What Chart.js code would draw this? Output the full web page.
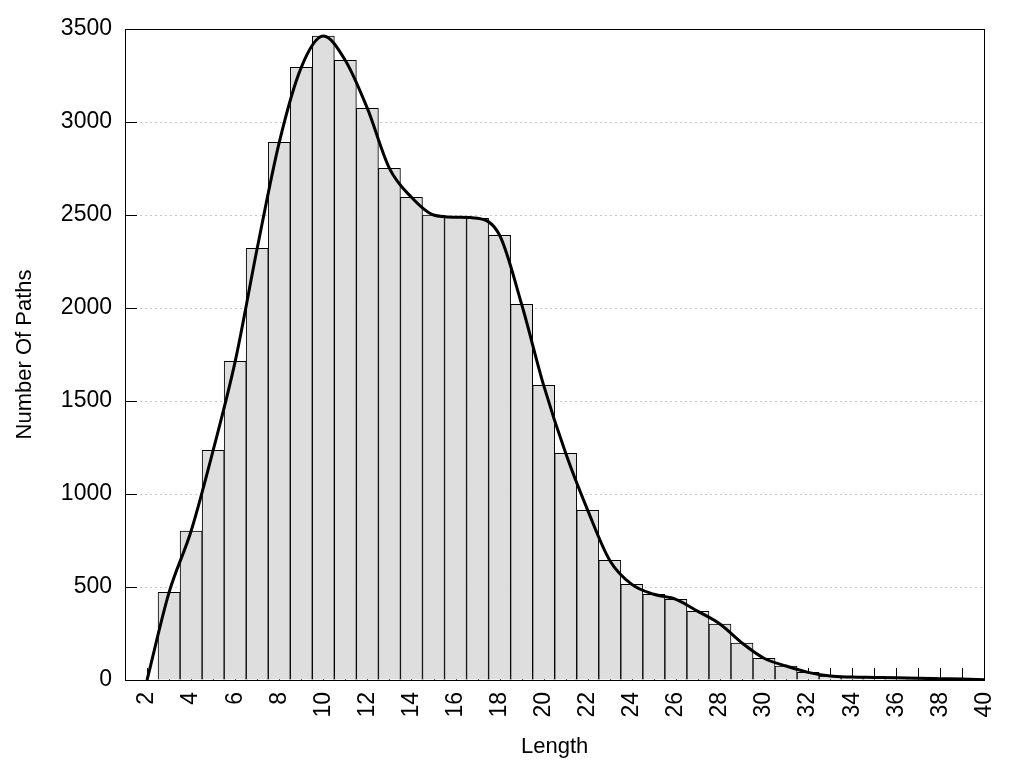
<!DOCTYPE html>
<html>
<head>
<meta charset="utf-8">
<script src="https://cdn.jsdelivr.net/npm/chart.js@4.4.1/dist/chart.umd.min.js"></script>
<style>
  html, body { margin: 0; padding: 0; background: #fff; }
  #wrap { width: 1024px; height: 768px; }
</style>
</head>
<body>
<div id="wrap"><canvas id="pathChart"></canvas></div>
<script>
// Histogram: path length vs number of paths
const lengths = [3, 4, 5, 6, 7, 8, 9, 10, 11, 12, 13, 14, 15, 16, 17, 18, 19, 20, 21,
                 22, 23, 24, 25, 26, 27, 28, 29, 30, 31, 32, 33, 34, 35, 36, 37, 38, 39];
const pathCounts = [471, 801, 1235, 1713, 2321, 2891, 3294, 3462, 3331, 3073, 2751, 2595, 2500,
                    2488, 2482, 2391, 2020, 1584, 1219, 912, 643, 514, 461, 434, 369, 301, 199,
                    117, 75, 41, 21, 16, 14, 12, 9, 7, 5];

// smoothed density curve, runs from 2 to 40
const curveX = [2, 3, 4, 5, 6, 7, 8, 9, 10, 11, 12, 13, 14, 15, 16, 17, 18, 19, 20, 21,
                22, 23, 24, 25, 26, 27, 28, 29, 30, 31, 32, 33, 34, 35, 36, 37, 38, 39, 40];
const curveY = [0, 471, 801, 1235, 1713, 2321, 2891, 3294, 3462, 3331, 3073, 2751, 2595, 2500,
                2488, 2482, 2391, 2020, 1584, 1219, 912, 643, 514, 461, 434, 369, 301, 199,
                117, 75, 41, 21, 16, 14, 12, 9, 7, 5, 2];

const xTicks = [2, 4, 6, 8, 10, 12, 14, 16, 18, 20, 22, 24, 26, 28, 30, 32, 34, 36, 38, 40];
const yTicks = [500, 1000, 1500, 2000, 2500, 3000];

Chart.defaults.font.family = "'Liberation Sans', Arial, sans-serif";
Chart.defaults.font.size = 23;
Chart.defaults.color = '#000';

// inward tick marks + box frame (gnuplot style)
const frameTicks = {
    id: 'frameTicks',
    beforeDatasetsDraw(chart) {
        const { ctx, chartArea: a, scales: { x, y } } = chart;
        ctx.save();
        ctx.strokeStyle = '#000';
        ctx.lineWidth = 1;
        ctx.beginPath();
        yTicks.forEach(t => {
            const py = Math.round(y.getPixelForValue(t)) + 0.5;
            ctx.moveTo(a.left, py);
            ctx.lineTo(a.left + 12, py);
        });
        curveX.forEach(v => {
            const px = Math.round(x.getPixelForValue(v)) + 0.5;
            ctx.moveTo(px, a.bottom);
            ctx.lineTo(px, a.bottom - 12);
        });
        ctx.stroke();
        ctx.restore();
    },
    afterDraw(chart) {
        const { ctx, chartArea: a } = chart;
        ctx.save();
        ctx.strokeStyle = '#000';
        ctx.lineWidth = 1;
        ctx.strokeRect(Math.round(a.left) + 0.5, Math.round(a.top) + 0.5,
                       Math.round(a.right - a.left), Math.round(a.bottom - a.top));
        ctx.restore();
    }
};

const ctx = document.getElementById('pathChart').getContext('2d');

new Chart(ctx, {
    data: {
        datasets: [{
            type: 'line',
            label: 'Density',
            data: curveX.map((v, i) => ({ x: v, y: curveY[i] })),
            borderColor: '#000',
            borderWidth: 3,
            pointRadius: 0,
            fill: false,
            cubicInterpolationMode: 'monotone',
            order: 0
        }, {
            type: 'bar',
            label: 'Paths',
            data: lengths.map((v, i) => ({ x: v, y: pathCounts[i] })),
            backgroundColor: '#dedede',
            borderColor: '#000',
            borderWidth: 1,
            barPercentage: 1,
            categoryPercentage: 1,
            order: 1
        }]
    },
    options: {
        responsive: true,
        maintainAspectRatio: false,
        animation: false,
        layout: {
            padding: { top: 29, right: 39, left: 0, bottom: 0 }
        },
        plugins: {
            legend: { display: false },
            tooltip: { enabled: false }
        },
        scales: {
            x: {
                type: 'linear',
                min: 1,
                max: 40,
                offset: false,
                afterFit: scale => { scale.height = 88; },
                afterBuildTicks: scale => {
                    scale.ticks = xTicks.map(v => ({ value: v }));
                },
                ticks: {
                    autoSkip: false,
                    minRotation: 90,
                    maxRotation: 90,
                    padding: 12
                },
                grid: { display: false, drawTicks: false, offset: false },
                border: { display: false },
                title: {
                    display: true,
                    text: 'Length',
                    font: { size: 22 },
                    padding: { top: 0, bottom: 8 }
                }
            },
            y: {
                min: 0,
                max: 3500,
                afterFit: scale => { scale.width = 125; },
                ticks: {
                    stepSize: 500,
                    padding: 13,
                    callback: v => String(v)
                },
                grid: {
                    color: '#c8c8c8',
                    lineWidth: 1,
                    drawTicks: false
                },
                border: { display: false, dash: [2, 3] },
                title: {
                    display: true,
                    text: 'Number Of Paths',
                    font: { size: 22 },
                    padding: { top: 12, bottom: 0 }
                }
            }
        }
    },
    plugins: [frameTicks]
});
</script>
</body>
</html>
